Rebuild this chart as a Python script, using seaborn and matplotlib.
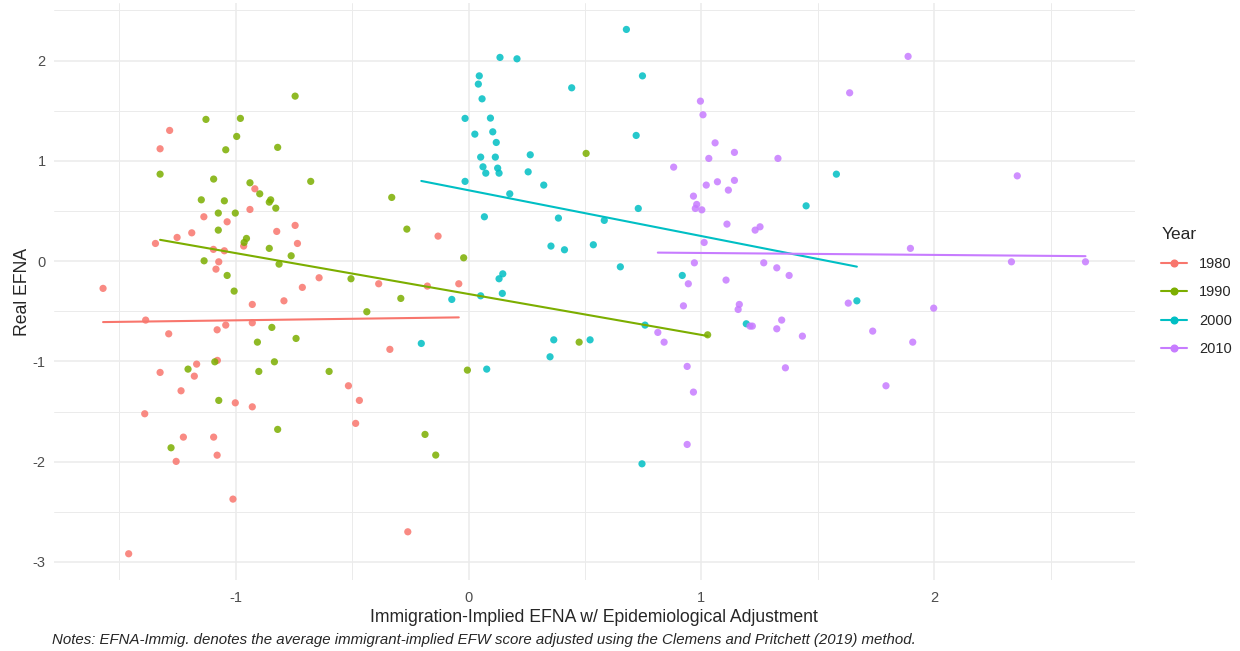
import matplotlib
matplotlib.use("Agg")
import matplotlib.pyplot as plt
import pandas as pd
import seaborn as sns
from matplotlib.lines import Line2D
from matplotlib.ticker import MultipleLocator

years = ["1980", "1990", "2000", "2010"]
palette = ["#F8766D", "#7CAE00", "#00BFC4", "#C77CFF"]

x_1980 = [-1.284, -1.325, -0.918, -1.137, -0.939, -1.037, -0.824, -1.252, -1.189, -1.345,
          -0.966, -1.096, -1.049, -1.073, -1.085, -1.570, -0.929, -1.387, -1.288, -1.080,
          -1.043, -0.929, -1.168, -1.079, -1.325, -1.178, -1.235, -1.002, -0.929, -1.391,
          -1.225, -1.095, -1.080, -1.256, -1.012, -1.460, -0.745, -0.735, -0.793, -0.714,
          -0.642, -0.386, -0.177, -0.042, -0.338, -0.516, -0.469, -0.485, -0.131, -0.261]
y_1980 = [1.303, 1.120, 0.721, 0.442, 0.515, 0.392, 0.296, 0.236, 0.282, 0.176,
          0.150, 0.117, 0.103, -0.007, -0.080, -0.272, -0.432, -0.588, -0.725, -0.685,
          -0.638, -0.615, -1.027, -0.990, -1.110, -1.147, -1.293, -1.413, -1.453, -1.522,
          -1.755, -1.755, -1.935, -1.997, -2.373, -2.918, 0.356, 0.176, -0.396, -0.262,
          -0.166, -0.226, -0.249, -0.226, -0.880, -1.243, -1.389, -1.618, 0.249, -2.699]

x_1990 = [-1.128, -0.980, -0.996, -1.043, -0.820, -1.325, -1.095, -0.939, -0.897, -1.148,
          -1.049, -0.850, -0.856, -0.828, -1.075, -1.002, -1.075, -0.954, -0.964, -0.856,
          -1.136, -1.037, -1.007, -0.845, -0.907, -1.090, -0.834, -1.205, -0.901, -1.073,
          -0.820, -1.278, -0.745, -0.678, -0.762, -0.814, -0.330, -0.265, -0.021, -0.505,
          -0.291, -0.437, -0.741, -0.599, -0.005, -0.187, -0.141, 0.505, 0.475, 1.027]
y_1990 = [1.413, 1.423, 1.243, 1.110, 1.134, 0.867, 0.818, 0.781, 0.671, 0.611,
          0.601, 0.611, 0.588, 0.528, 0.479, 0.479, 0.309, 0.226, 0.186, 0.127,
          0.003, -0.143, -0.299, -0.661, -0.808, -1.004, -1.004, -1.077, -1.100, -1.389,
          -1.678, -1.861, 1.645, 0.795, 0.053, -0.030, 0.635, 0.319, 0.033, -0.176,
          -0.372, -0.505, -0.771, -1.100, -1.087, -1.728, -1.934, 1.074, -0.808, -0.735]

x_2000 = [-0.015, 0.027, -0.015, -0.203, -0.072, 0.678, 0.135, 0.208, 0.747, 0.046,
          0.042, 0.443, 0.058, 0.094, 0.104, 0.119, 0.720, 0.052, 0.115, 0.265,
          0.062, 0.125, 0.074, 0.131, 0.256, 0.323, 0.177, 0.729, 0.068, 0.386,
          0.583, 0.354, 0.412, 0.536, 0.147, 0.131, 0.052, 0.145, 0.652, 0.078,
          0.366, 0.350, 0.522, 0.758, 0.745, 1.580, 1.450, 0.918, 1.193, 1.668]
y_2000 = [1.423, 1.266, 0.795, -0.821, -0.382, 2.310, 2.031, 2.017, 1.847, 1.847,
          1.765, 1.728, 1.618, 1.426, 1.289, 1.183, 1.253, 1.037, 1.037, 1.060,
          0.940, 0.927, 0.877, 0.877, 0.890, 0.758, 0.671, 0.525, 0.442, 0.429,
          0.406, 0.150, 0.113, 0.163, -0.127, -0.176, -0.346, -0.322, -0.057, -1.077,
          -0.785, -0.954, -0.785, -0.638, -2.021, 0.867, 0.551, -0.143, -0.625, -0.396]

x_2010 = [1.637, 0.996, 1.007, 1.059, 1.142, 1.032, 1.329, 0.881, 1.069, 1.142,
          1.021, 1.116, 0.966, 0.980, 0.974, 1.002, 1.110, 1.231, 1.252, 1.012,
          0.970, 0.944, 0.923, 1.106, 1.268, 1.324, 1.377, 1.163, 1.158, 1.209,
          1.219, 1.345, 1.324, 1.434, 1.631, 0.813, 0.840, 0.939, 1.361, 0.966,
          0.939, 1.888, 2.357, 1.898, 2.332, 2.650, 1.998, 1.736, 1.908, 1.793]
y_2010 = [1.678, 1.595, 1.459, 1.179, 1.084, 1.024, 1.024, 0.937, 0.791, 0.805,
          0.758, 0.708, 0.648, 0.565, 0.525, 0.511, 0.369, 0.309, 0.342, 0.186,
          -0.017, -0.226, -0.446, -0.189, -0.017, -0.067, -0.143, -0.432, -0.482, -0.648,
          -0.648, -0.588, -0.675, -0.748, -0.419, -0.711, -0.808, -1.050, -1.064, -1.306,
          -1.828, 2.041, 0.850, 0.127, -0.007, -0.007, -0.469, -0.698, -0.808, -1.243]

sns.set_theme(style="white")
plt.rcParams["font.family"] = ["Liberation Sans", "DejaVu Sans"]
plt.rcParams["axes.unicode_minus"] = False

df = pd.concat([
    pd.DataFrame({"x": x_1980, "y": y_1980, "year": "1980"}),
    pd.DataFrame({"x": x_1990, "y": y_1990, "year": "1990"}),
    pd.DataFrame({"x": x_2000, "y": y_2000, "year": "2000"}),
    pd.DataFrame({"x": x_2010, "y": y_2010, "year": "2010"}),
], ignore_index=True)

fig = plt.figure(figsize=(12.4, 6.51), dpi=100)
ax = fig.add_axes([0.0435, 0.109, 0.8715, 0.886])

sns.scatterplot(data=df, x="x", y="y", hue="year", hue_order=years, palette=palette,
                s=27, alpha=0.85, edgecolor="none", legend=False, ax=ax, zorder=3)
# linear fit per year, drawn over each group's own x range
for yr, col in zip(years, palette):
    sns.regplot(data=df[df["year"] == yr], x="x", y="y", scatter=False, ci=None,
                color=col, line_kws={"linewidth": 1.5, "zorder": 4}, ax=ax)

ax.set_xlim(-1.781, 2.861)
ax.set_ylim(-3.18, 2.571)
ax.xaxis.set_major_locator(MultipleLocator(1))
ax.xaxis.set_minor_locator(MultipleLocator(0.5))
ax.yaxis.set_major_locator(MultipleLocator(1))
ax.yaxis.set_minor_locator(MultipleLocator(0.5))
ax.grid(which="major", color="#EBEBEB", linewidth=1.1)
ax.grid(which="minor", color="#EBEBEB", linewidth=0.7)
ax.set_axisbelow(True)
for s in ax.spines.values():
    s.set_visible(False)
ax.tick_params(which="both", length=0, labelsize=10.5, labelcolor="#4D4D4D")
ax.tick_params(axis="x", pad=8)
ax.tick_params(axis="y", pad=6)

ax.set_xlabel("Immigration-Implied EFNA w/ Epidemiological Adjustment", fontsize=12.7, labelpad=3)
ax.set_ylabel("Real EFNA", fontsize=12.7, labelpad=1)

handles = [Line2D([0], [0], color=c, marker="o", markersize=4.8, linewidth=1.5) for c in palette]
leg = fig.legend(handles, years, title="Year", loc="upper left",
                 bbox_to_anchor=(1148 / 1240, 1 - 214 / 651), frameon=False,
                 fontsize=10.5, title_fontsize=12.5, labelspacing=1.0,
                 handlelength=1.8, alignment="left")

fig.text(52 / 1240, 1 - 640 / 651,
         "Notes: EFNA-Immig. denotes the average immigrant-implied EFW score adjusted using the Clemens and Pritchett (2019) method.",
         fontsize=10.8, style="italic", va="center", ha="left")

fig.savefig("out.png", dpi=100)
